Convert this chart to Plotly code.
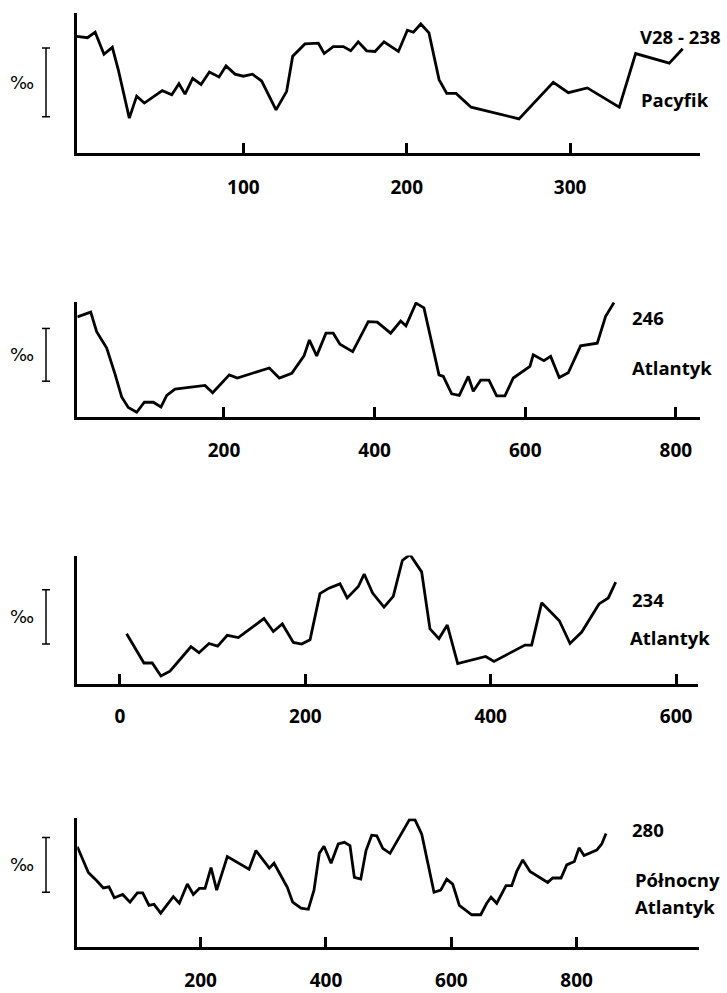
import plotly.graph_objects as go

# ---------------- data (depth vs. isotope ratio, relative ‰ units) ----------------
x_v28 = [-2, 4.6, 9.3, 14.7, 19.8, 23.5, 30.2, 34.7, 39.4, 44.9, 50.4, 56.2, 60.6, 64.3, 69.0,
         74.1, 79.2, 85.1, 89.4, 94.9, 100, 105.5, 111.2, 120, 126.5, 130.2, 137.7, 145.9, 149.5,
         155, 161.2, 165.7, 170.3, 175.5, 180.6, 186.1, 194.9, 200.4, 204.1, 208.6, 213.6, 219.8,
         224.5, 230.2, 239.4, 268.7, 289.7, 298.9, 310.5, 330.1, 340.1, 360.7, 368.9]
y_v28 = [1.69, 1.67, 1.75, 1.43, 1.53, 1.20, 0.50, 0.82, 0.72, 0.81, 0.90, 0.84, 1.00, 0.85, 1.08,
         0.99, 1.17, 1.10, 1.26, 1.14, 1.11, 1.14, 1.04, 0.62, 0.89, 1.40, 1.58, 1.59, 1.44,
         1.54, 1.54, 1.48, 1.61, 1.48, 1.47, 1.61, 1.47, 1.78, 1.75, 1.87, 1.74, 1.06,
         0.86, 0.86, 0.66, 0.49, 1.02, 0.87, 0.94, 0.66, 1.44, 1.30, 1.51]

x_246 = [5.3, 23.1, 31.0, 44.3, 55.3, 64.2, 73.0, 84.2, 94.3, 106.2, 116.4, 124.0, 135.0, 174.8,
         185.0, 207.1, 217.7, 260.2, 273.5, 290.0, 306.3, 313.4, 323.1, 335.4, 345.1, 354.0,
         370.9, 391.6, 403.6, 421.3, 434.6, 441.6, 454.9, 465.5, 485.5, 491.2, 502.3, 512.4,
         524.4, 531.0, 540.8, 551.8, 562.0, 573.0, 584.1, 606.2, 610.6, 624.8, 633.7, 645.1,
         657.1, 673.5, 695.6, 706.7, 717.8]
y_246 = [1.90, 1.99, 1.62, 1.31, 0.82, 0.38, 0.18, 0.09, 0.28, 0.28, 0.19, 0.41, 0.53, 0.60,
         0.46, 0.80, 0.74, 0.93, 0.74, 0.83, 1.16, 1.46, 1.16, 1.59, 1.59, 1.38,
         1.24, 1.81, 1.80, 1.59, 1.82, 1.73, 2.16, 2.07, 0.80, 0.77, 0.44, 0.41,
         0.77, 0.49, 0.70, 0.70, 0.40, 0.40, 0.74, 0.96, 1.18, 1.07, 1.15, 0.75,
         0.84, 1.35, 1.40, 1.91, 2.17]

x_234 = [7.2, 25.9, 34.9, 44.2, 54.0, 76.6, 85.3, 96.1, 105.4, 115.8, 127.7, 155.4, 165.5, 175.2,
         187.1, 196.1, 205.1, 215.8, 225.5, 237.4, 245.2, 257.2, 263.5, 272.6, 284.9, 294.9,
         304.7, 312.9, 325.5, 334.5, 344.2, 353.2, 364.4, 394.6, 403.6, 437.0, 444.2, 455.0,
         474.1, 485.6, 498.2, 516.9, 526.9, 534.9]
y_234 = [0.92, 0.38, 0.38, 0.14, 0.23, 0.68, 0.57, 0.74, 0.69, 0.89, 0.85, 1.20, 0.96, 1.10,
         0.76, 0.73, 0.81, 1.66, 1.76, 1.84, 1.58, 1.79, 2.02, 1.67, 1.41, 1.61,
         2.27, 2.38, 2.06, 1.01, 0.83, 1.08, 0.37, 0.50, 0.41, 0.71, 0.71, 1.49,
         1.16, 0.74, 0.95, 1.47, 1.58, 1.87]

x_280 = [3.2, 20.8, 34.2, 44.7, 53.8, 62.3, 75.6, 87.3, 99.0, 107.6, 117.6, 125.6, 136.3, 156.4,
         166.0, 178.8, 188.3, 197.9, 207.0, 216.6, 225.6, 242.6, 277.2, 288.3, 309.6, 317.1,
         338.3, 346.9, 360.1, 371.8, 380.9, 389.4, 396.9, 408.1, 419.6, 429.3, 438.3, 445.3,
         455.5, 463.9, 473.0, 481.0, 490.6, 502.2, 533.0, 542.1, 552.8, 572.4, 583.1, 592.7,
         602.2, 612.8, 632.6, 646.9, 656.5, 663.4, 672.5, 687.3, 696.4, 704.4, 714.0, 725.6,
         753.8, 761.8, 775.1, 784.2, 796.3, 803.8, 811.8, 832.0, 840.0, 846.9]
y_280 = [1.83, 1.36, 1.21, 1.08, 1.10, 0.90, 0.96, 0.82, 0.99, 0.99, 0.76, 0.78, 0.62, 0.92,
         0.80, 1.15, 0.96, 1.07, 1.07, 1.45, 1.04, 1.65, 1.42, 1.76, 1.44, 1.53,
         1.09, 0.82, 0.71, 0.69, 1.04, 1.71, 1.84, 1.53, 1.88, 1.91, 1.85, 1.27,
         1.24, 1.76, 2.04, 2.03, 1.80, 1.71, 2.32, 2.32, 2.06, 1.00, 1.04, 1.24,
         1.15, 0.76, 0.59, 0.59, 0.80, 0.91, 0.80, 1.12, 1.12, 1.38, 1.59, 1.38,
         1.18, 1.26, 1.26, 1.50, 1.56, 1.81, 1.67, 1.77, 1.88, 2.07]

core_ids = ["V28 - 238", "246", "234", "280"]
regions = [["Pacyfik"], ["Atlantyk"], ["Atlantyk"], ["Północny", "Atlantyk"]]
tick_vals = [[100, 200, 300], [200, 400, 600, 800], [0, 200, 400, 600], [200, 400, 600, 800]]
unit_label = "‰"

# ---------------- layout geometry (pixels) ----------------
W, H = 727, 993
def PX(x): return x / W
def PY(y): return 1 - y / H

panels = [
    dict(x=x_v28, y=y_v28, l=76.7, r=700, t=13, b=153, xr=[-2, 379.5], yr=[0, 2.03],
         bar=(0.52, 1.52), id_xy=(680, 37), reg_xy=[(675, 100)], standoff=16),
    dict(x=x_246, y=y_246, l=77.3, r=700, t=303, b=418.3, xr=[5.3, 832], yr=[0, 2.18],
         bar=(0.68, 1.68), id_xy=(648, 318), reg_xy=[(672, 369)], standoff=14),
    dict(x=x_234, y=y_234, l=77.3, r=698.3, t=557.3, b=685.7, xr=[-46, 624], yr=[0, 2.36],
         bar=(0.73, 1.73), id_xy=(648, 601), reg_xy=[(670, 639)], standoff=14),
    dict(x=x_280, y=y_280, l=77.3, r=699.3, t=820.7, b=950, xr=[3.2, 995.7], yr=[0, 2.35],
         bar=(1.0, 2.0), id_xy=(648, 832), reg_xy=[(677, 882), (675, 909)], standoff=14),
]

BOLD = dict(family="Open Sans", size=18.5, color="black", weight="bold")

fig = go.Figure()
shapes, annotations = [], []
layout = dict(width=W, height=H, margin=dict(l=0, r=0, t=0, b=0),
              paper_bgcolor="white", plot_bgcolor="white", showlegend=False)

for i, p in enumerate(panels):
    n = "" if i == 0 else str(i + 1)
    fig.add_trace(go.Scatter(x=p["x"], y=p["y"], mode="lines",
                             line=dict(color="black", width=2.8),
                             xaxis="x" + n, yaxis="y" + n, hoverinfo="skip"))
    layout["xaxis" + n] = dict(
        domain=[PX(p["l"]), PX(p["r"])], range=p["xr"], anchor="y" + n,
        showgrid=False, zeroline=False, showline=True, linecolor="black", linewidth=3,
        ticks="inside", ticklen=10, tickwidth=2.5, tickcolor="black",
        tickvals=tick_vals[i], ticktext=[str(v) for v in tick_vals[i]],
        tickfont=dict(family="Open Sans", size=19, color="black", weight="bold"),
        ticklabelstandoff=p["standoff"])
    layout["yaxis" + n] = dict(
        domain=[PY(p["b"]), PY(p["t"])], range=p["yr"], anchor="x" + n,
        showgrid=False, zeroline=False, showline=True, linecolor="black", linewidth=3,
        showticklabels=False, ticks="")
    # ‰ scale bar
    yref = "y" + n
    b0, b1 = p["bar"]
    bx = PX(46)
    cap = 4 / W
    shapes += [
        dict(type="line", xref="paper", yref=yref, x0=bx, x1=bx, y0=b0, y1=b1,
             line=dict(color="black", width=1.5)),
        dict(type="line", xref="paper", yref=yref, x0=bx - cap, x1=bx + cap, y0=b0, y1=b0,
             line=dict(color="black", width=1.5)),
        dict(type="line", xref="paper", yref=yref, x0=bx - cap, x1=bx + cap, y0=b1, y1=b1,
             line=dict(color="black", width=1.5)),
    ]
    annotations.append(dict(xref="paper", yref=yref, x=PX(22), y=(b0 + b1) / 2,
                            xanchor="center", yanchor="middle",
                            text=unit_label, showarrow=False,
                            font=dict(family="DejaVu Sans", size=18, color="black")))
    annotations.append(dict(xref="paper", yref="paper", x=PX(p["id_xy"][0]), y=PY(p["id_xy"][1]),
                            xanchor="center", yanchor="middle",
                            text=core_ids[i], showarrow=False, font=BOLD))
    for txt, (rx, ry) in zip(regions[i], p["reg_xy"]):
        annotations.append(dict(xref="paper", yref="paper", x=PX(rx), y=PY(ry),
                                xanchor="center", yanchor="middle",
                                text=txt, showarrow=False, font=BOLD))

layout["shapes"] = shapes
layout["annotations"] = annotations
fig.update_layout(**layout)
fig.write_html("out.html", config={"displayModeBar": False},
               post_script="document.body.style.margin='0';")
